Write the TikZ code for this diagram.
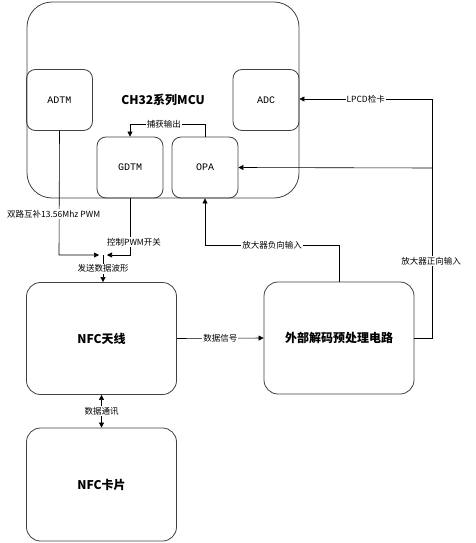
\documentclass[tikz,border=0pt]{standalone}
\usepackage{fontspec}
\setmainfont{Noto Sans CJK SC}
\newfontfamily\monof{Liberation Mono}
\usetikzlibrary{arrows.meta}
\begin{document}
\begin{tikzpicture}[x=1pt,y=-1pt,
  blk/.style={draw=black!75,line width=0.8pt,rounded corners=9pt,minimum width=66pt,minimum height=61pt,inner sep=0pt,font=\monof\fontsize{10}{10}\selectfont},
  bigblk/.style={draw=black!75,line width=0.8pt,rounded corners=14pt,minimum width=150pt,minimum height=112pt,inner sep=0pt,font=\bfseries\fontsize{12}{12}\selectfont},
  lbl/.style={fill=white,inner sep=1pt,font=\fontsize{8.5}{8.5}\selectfont},
  conn/.style={line width=0.6pt},
  arr/.style={conn,-{Triangle[length=5pt,width=5pt]}}]
\useasboundingbox (0,0) rectangle (475,543);
\node[draw=black!75,line width=0.8pt,rounded corners=25pt,minimum width=272pt,minimum height=196pt,inner sep=0pt] (mcu) at (163,100) {};
\node[font=\bfseries\fontsize{12}{12}\selectfont] (mcut) at (163,100) {CH32系列MCU};
\node[blk] (adtm) at (59.5,100) {ADTM};
\node[blk] (adc) at (266,100) {ADC};
\node[blk] (gdtm) at (130,167.5) {GDTM};
\node[blk] (opa) at (205,167.5) {OPA};
\node[bigblk] (nfc) at (101.5,338.5) {NFC天线};
\node[bigblk] (ext) at (339,338) {外部解码预处理电路};
\node[bigblk,minimum height=113pt] (card) at (101.5,484.5) {NFC卡片};
\coordinate (mid) at (103,255);
% capture output
\draw[arr] (opa.north) -- (205,124) -- node[lbl,pos=0.55]{捕获输出} (130,124) -- (gdtm.north);
% PWM lines
\draw[arr] (adtm.south) -- (59,255) -- (99,255);
\draw[arr] (gdtm.south) -- (130,255) -- (107,255);
\node[lbl,anchor=west] at (6,214) {双路互补13.56Mhz PWM};
\node[lbl] at (134,242) {控制PWM开关};
\draw[arr] (mid) -- node[lbl,pos=0.5]{发送数据波形} (nfc.north -| mid);
% data signal
\draw[arr] (nfc.east) -- node[lbl]{数据信号} (ext.west);
% negative input
\draw[arr] (ext.north) -- (339,245) -- node[lbl]{放大器负向输入} (205,245) -- (opa.south);
% positive input & LPCD
\draw[arr] (ext.east) -- (432,338) -- (432,99) -- node[lbl]{LPCD检卡} (adc.east |- 0,99);
\draw[arr] (432,168) -- (opa.east);
\node[lbl] at (431,261) {放大器正向输入};
% data comm
\draw[{Triangle[length=5pt,width=5pt]}-{Triangle[length=5pt,width=5pt]},conn] (nfc.south) -- node[lbl]{数据通讯} (card.north);
\end{tikzpicture}
\end{document}
